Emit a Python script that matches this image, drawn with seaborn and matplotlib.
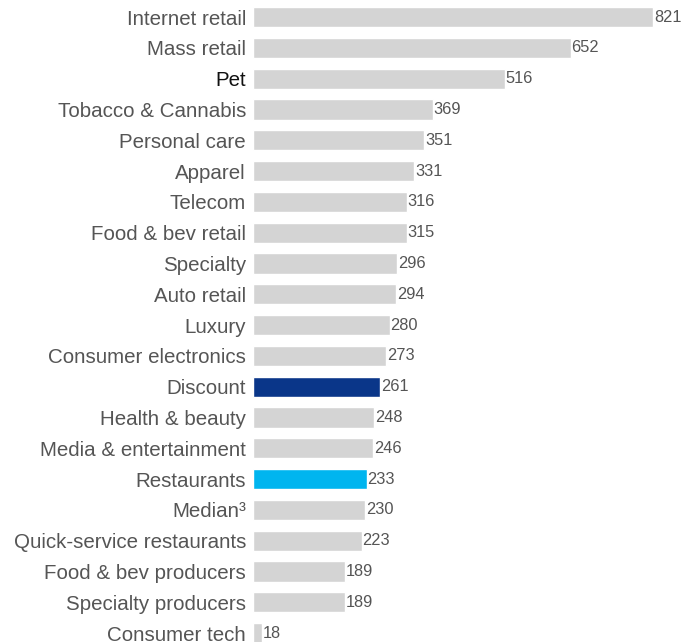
import matplotlib
matplotlib.use("Agg")
import matplotlib.pyplot as plt
import seaborn as sns
import pandas as pd

categories = [
    "Internet retail", "Mass retail", "Pet", "Tobacco & Cannabis", "Personal care",
    "Apparel", "Telecom", "Food & bev retail", "Specialty", "Auto retail", "Luxury",
    "Consumer electronics", "Discount", "Health & beauty", "Media & entertainment",
    "Restaurants", "Median\u00b3", "Quick-service restaurants", "Food & bev producers",
    "Specialty producers", "Consumer tech",
]
values = [821, 652, 516, 369, 351, 331, 316, 315, 296, 294, 280,
          273, 261, 248, 246, 233, 230, 223, 189, 189, 18]
highlights = {"Discount": "#0a3689", "Restaurants": "#00b5ef"}

df = pd.DataFrame({"category": categories, "value": values})
palette = {c: highlights.get(c, "#d4d4d4") for c in categories}

sns.set_theme(style="white")
plt.rcParams["font.family"] = ["Liberation Sans", "DejaVu Sans"]

fig = plt.figure(figsize=(6.81, 6.42), dpi=100)
ax = fig.add_axes([0.3715, 0.0, 0.62, 640 / 642])

sns.barplot(data=df, x="value", y="category", hue="category", palette=palette,
            order=categories, width=0.66, legend=False, ax=ax, saturation=1)

ax.set_xlim(0, 866)
ax.set_ylim(20.29, -0.49)
ax.set_xlabel("")
ax.set_ylabel("")
ax.set_xticks([])
for s in ax.spines.values():
    s.set_visible(False)

ax.tick_params(axis="y", length=0, pad=5)
for lab in ax.get_yticklabels():
    lab.set_fontsize(14.8)
    lab.set_color("#111111" if lab.get_text() == "Pet" else "#555555")

for i, v in enumerate(values):
    ax.text(v + 1.5, i, str(v), va="center", ha="left", fontsize=11.8, color="#555555")

fig.savefig("out.png", dpi=100)
